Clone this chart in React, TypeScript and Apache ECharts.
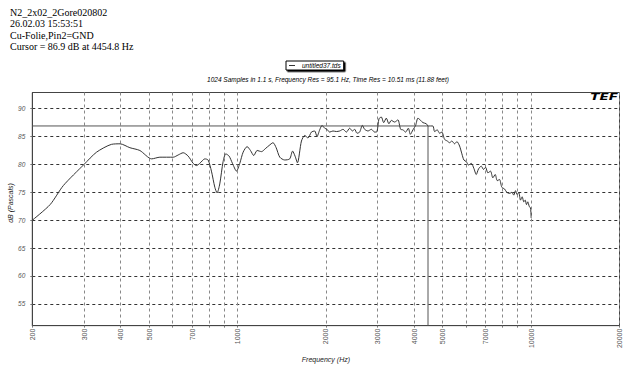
import React, { useEffect, useRef } from "react";
import * as echarts from "echarts";

const headerLines = [
  "N2_2x02_2Gore020802",
  "26.02.03 15:53:51",
  "Cu-Folie,Pin2=GND",
  "Cursor = 86.9 dB at 4454.8 Hz",
];
const chartTitle =
  "1024 Samples in 1.1 s, Frequency Res = 95.1 Hz, Time Res = 10.51 ms (11.88 feet)";
const seriesName = "untitled37.tds";
const xAxisName = "Frequency (Hz)";
const yAxisName = "dB (Pascals)";

const freqHz = [
  200, 230, 255, 300, 331, 372, 398, 430, 465, 510, 544, 604, 628, 653, 679, 706, 725, 744,
  774, 794, 815, 837, 852, 870, 893, 912, 936, 961, 992, 1018, 1045, 1078, 1107, 1136, 1166,
  1207, 1248, 1281, 1321, 1354, 1393, 1448, 1506, 1540, 1570, 1600, 1651, 1695, 1738, 1785,
  1832, 1865, 1905, 1940, 1981, 2017, 2060, 2114, 2171, 2229, 2287, 2349, 2410, 2462, 2507,
  2552, 2606, 2662, 2710, 2782, 2857, 2931, 2986, 3033, 3090, 3146, 3212, 3278, 3341, 3429,
  3518, 3594, 3660, 3738, 3818, 3878, 3958, 4042, 4116, 4204, 4280, 4396, 4455, 4628, 4690,
  4790, 4877, 4966, 5072, 5181, 5276, 5372, 5487, 5587, 5707, 5810, 5902, 6014, 6123, 6255,
  6382, 6503, 6621, 6763, 6887, 6996, 7123, 7275, 7406, 7547, 7666, 7806, 7948, 8118, 8266,
  8443, 8597, 8730, 8848, 8966, 9078, 9200, 9325, 9441, 9546, 9643, 9742, 9850, 9950, 9990,
  10000,
];
const levelDb = [
  70.0, 72.8, 76.2, 80.0, 82.2, 83.6, 83.7, 83.0, 82.5, 81.0, 81.3, 81.3, 81.7, 82.1, 81.5,
  80.2, 79.8, 80.2, 81.0, 80.8, 78.8, 75.9, 74.9, 76.5, 80.5, 81.9, 81.5, 80.2, 78.8, 80.2,
  82.2, 83.2, 82.5, 81.6, 82.5, 82.3, 82.9, 83.4, 83.9, 83.0, 81.3, 80.8, 81.0, 82.4, 81.5,
  80.3, 84.2, 85.2, 84.75, 85.8, 86.0, 85.0, 86.2, 87.0, 86.5, 86.3, 85.8, 86.0, 85.9, 86.0,
  86.3, 85.8, 86.5, 86.0, 86.3, 85.6, 85.8, 87.0, 86.3, 86.0, 86.3, 85.8, 85.9, 88.2, 88.5,
  87.5, 88.3, 87.3, 87.9, 87.6, 88.0, 86.3, 86.2, 85.8, 86.5, 85.4, 86.2, 87.0, 88.3, 87.9,
  87.5, 87.3, 86.9, 86.9, 85.9, 86.2, 85.6, 85.8, 84.5, 84.2, 83.9, 84.2, 83.7, 84.1, 83.3,
  81.9, 80.8, 80.5, 79.9, 80.2, 79.3, 78.2, 79.2, 79.7, 79.1, 79.5, 78.5, 78.8, 77.6, 78.2,
  77.1, 77.3, 75.9, 75.6, 75.0, 74.8, 75.0, 74.5, 75.3, 74.6, 75.0, 73.6, 74.2, 73.3, 73.6,
  72.8, 73.3, 72.5, 72.2, 71.1, 70.4,
];

const cursorHz = 4454.8;
const cursorDb = 86.9;

const xGridHz = [200, 300, 400, 500, 600, 700, 800, 900, 1000, 2000, 3000, 4000, 5000, 6000, 7000, 8000, 9000, 10000, 20000];
const xLabelHz = [200, 300, 400, 500, 700, 1000, 2000, 3000, 4000, 5000, 7000, 10000, 20000];
const yTicks = [55, 60, 65, 70, 75, 80, 85, 90];
const xMinHz = 200;
const xMaxHz = 20000;
const yMin = 51.1;
const yMax = 92.9;

const lg = (v: number) => Math.log10(v);

export default function App() {
  const ref = useRef<HTMLDivElement>(null);
  useEffect(() => {
    if (!ref.current) return;
    const chart = echarts.init(ref.current, null, { renderer: "svg" });
    const sans = "Liberation Sans";
    const option: any = {
      animation: false,
      backgroundColor: "#fff",
      grid: {
        left: 32.3,
        right: 3,
        top: 92.5,
        bottom: 31,
        show: true,
        borderColor: "#444",
        borderWidth: 1,
        backgroundColor: "transparent",
      },
      legend: {
        show: true,
        data: [seriesName],
        left: 286,
        top: 61,
        icon: "rect",
        itemWidth: 6,
        itemHeight: 1,
        itemGap: 0,
        padding: [1, 3, 1, 3],
        borderColor: "#000",
        borderWidth: 1,
        backgroundColor: "#fff",
        shadowColor: "#000",
        shadowBlur: 0,
        shadowOffsetX: 1.5,
        shadowOffsetY: 1.5,
        textStyle: { fontSize: 6.5, fontStyle: "italic", color: "#000", fontFamily: sans, padding: [0, 0, 0, 2] },
      },
      xAxis: {
        type: "value",
        min: lg(xMinHz),
        max: lg(xMaxHz),
        name: xAxisName,
        nameLocation: "middle",
        nameGap: 26,
        nameTextStyle: { fontSize: 7, fontStyle: "italic", color: "#222", fontFamily: sans },
        axisLine: { show: true, lineStyle: { color: "#444", width: 1 } },
        axisTick: {
          show: true,
          inside: false,
          length: 2,
          customValues: xGridHz.map(lg),
          lineStyle: { color: "#777" },
        },
        axisLabel: {
          show: true,
          customValues: xLabelHz.map(lg),
          rotate: 90,
          fontSize: 7,
          color: "#555",
          fontFamily: sans,
          margin: 3,
          formatter: (v: number) => String(Math.round(Math.pow(10, v))),
        },
        splitLine: { show: true, lineStyle: { color: "#888", type: [3, 3], width: 1 } },
      },
      yAxis: {
        type: "value",
        min: yMin,
        max: yMax,
        axisLine: { show: true, lineStyle: { color: "#444", width: 1 } },
        axisTick: { show: true, length: 2, customValues: yTicks, lineStyle: { color: "#777" } },
        axisLabel: {
          show: true,
          customValues: yTicks,
          fontSize: 6.5,
          fontStyle: "italic",
          color: "#555",
          fontFamily: sans,
          margin: 7,
        },
        splitLine: { show: true, lineStyle: { color: "#333", type: [3, 3], width: 1 } },
      },
      series: [
        {
          name: seriesName,
          type: "line",
          data: freqHz.map((f, i) => [lg(f), levelDb[i]]),
          showSymbol: false,
          smooth: 0.25,
          lineStyle: { color: "#333", width: 1 },
          itemStyle: { color: "#333" },
          z: 3,
        },
        {
          name: "cursor",
          type: "line",
          data: [
            [lg(xMinHz), cursorDb],
            [lg(cursorHz), cursorDb],
            [lg(cursorHz), yMin],
          ],
          showSymbol: false,
          lineStyle: { color: "#555", width: 1 },
          itemStyle: { color: "#555" },
          z: 2,
        },
      ],
      graphic: [
        ...headerLines.map((t, i) => ({
          type: "text",
          x: 10,
          y: 12.5 + i * 11.3,
          style: {
            text: t,
            fontFamily: "Liberation Serif",
            fontSize: 10,
            fill: "#000",
            verticalAlign: "middle",
          },
        })),
        {
          type: "text",
          x: 328,
          y: 79,
          style: {
            text: chartTitle,
            fontFamily: sans,
            fontSize: 6.5,
            fontStyle: "italic",
            fill: "#000",
            align: "center",
            verticalAlign: "middle",
          },
        },
        {
          type: "text",
          x: 10,
          y: 203,
          rotation: Math.PI / 2,
          style: {
            text: yAxisName,
            fontFamily: sans,
            fontSize: 7,
            fontStyle: "italic",
            fill: "#222",
            align: "center",
            verticalAlign: "middle",
          },
        },
        {
          type: "text",
          x: 618,
          y: 97.5,
          scaleX: 1.7,
          z: 10,
          style: {
            text: "TEF",
            fontFamily: "DejaVu Sans",
            fontSize: 8,
            fontWeight: 900,
            fontStyle: "italic",
            fill: "#000",
            align: "right",
            verticalAlign: "middle",
          },
        },
      ],
    };
    chart.setOption(option);
    return () => chart.dispose();
  }, []);
  return <div ref={ref} style={{ width: 623, height: 368, position: "absolute", left: 0, top: 0 }} />;
}
